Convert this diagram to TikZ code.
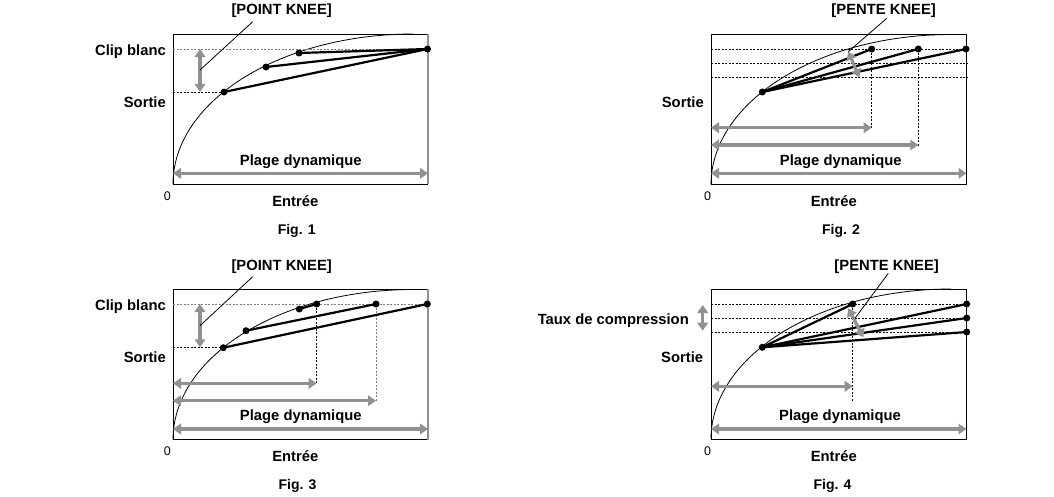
\documentclass[tikz,border=0pt]{standalone}
\usepackage{fontspec}
\setmainfont{Liberation Sans}
\usetikzlibrary{arrows.meta}
\definecolor{arrgray}{RGB}{145,145,145}
\definecolor{dotgray}{RGB}{125,125,125}
\tikzset{
  frame/.style={line width=1pt},
  curve/.style={line width=0.8pt},
  knee/.style={line width=2.2pt},
  dotl/.style={line width=1pt, dash pattern=on 2pt off 1.5pt},
  graydot/.style={dotl, draw=dotgray},
  garrow/.style={draw=arrgray, line width=3.3pt,
    {Triangle[length=8pt,width=10.5pt]}-{Triangle[length=8pt,width=10.5pt]}},
  leader/.style={line width=0.8pt},
  lab/.style={font=\fontsize{14.8}{17}\selectfont\bfseries, inner sep=0pt},
  figlab/.style={font=\fontsize{14}{17}\selectfont\bfseries, inner sep=0pt},
  zero/.style={font=\fontsize{12.5}{14}\selectfont, inner sep=0pt},
  dot/.style={circle, fill=black, inner sep=0pt, minimum size=7pt},
}
\begin{document}
\begin{tikzpicture}[x=1pt,y=-1pt]
\path[use as bounding box] (0,0) rectangle (1054,496);

% ================= Fig. 1 =================
\draw[frame] (428,34) -- (173,34) -- (173,184) -- (428,184);
\draw[frame, draw=arrgray, line width=1.3pt] (428,34) -- (428,184);
\draw[curve] plot[domain=180:270, samples=90] ({413+240*cos(\x)}, {184+150*sin(\x)});
\coordinate (f1k1) at (224,92);
\coordinate (f1k2) at (266,67);
\coordinate (f1k3) at (299,53);
\coordinate (f1e) at (427.5,49);
\coordinate (f1cl) at (173,49);
\coordinate (f1sl) at (173,92);
\draw[graydot] (f1cl) -- (f1e);
\draw[dotl] (f1sl) -- (f1k1);
\draw[knee] (f1k1) -- (f1e);
\draw[knee] (f1k2) -- (f1e);
\draw[knee] (f1k3) -- (f1e);
\node[dot] (f1k1d) at (f1k1) {};
\node[dot] (f1k2d) at (f1k2) {};
\node[dot] (f1k3d) at (f1k3) {};
\node[dot] (f1ed) at (f1e) {};
\coordinate (f1va) at (200,49);
\coordinate (f1vb) at (200,92);
\draw[garrow] (f1va) -- (f1vb);
\coordinate (f1ha) at (173,173.3);
\coordinate (f1hb) at (428,173.3);
\draw[garrow] (f1ha) -- (f1hb);
\node[lab, anchor=base] (f1pk) at (281.7,14) {[POINT KNEE]};
\coordinate (f1lt) at (252.7,21.7);
\coordinate (f1lb) at (200,70);
\draw[leader] (f1lt) -- (f1lb);
\node[lab, anchor=base east] (f1clip) at (166,55) {Clip blanc};
\node[lab, anchor=base east] (f1sort) at (166,107.3) {Sortie};
\node[lab, anchor=base] (f1plage) at (300.8,165.7) {Plage dynamique};
\node[zero, anchor=base] (f1zero) at (167.3,200.7) {0};
\node[lab, anchor=base] (f1entree) at (295.3,206.7) {Entrée};
\node[figlab, anchor=base] (f1fig) at (296.7,234.3) {Fig. 1};

% ================= Fig. 2 =================
\draw[frame] (711,34) rectangle (966.7,184.5);
\draw[curve] plot[domain=180:270, samples=90] ({951+240*cos(\x)}, {184.5+150*sin(\x)});
\coordinate (f2k) at (762.3,92);
\coordinate (f2a) at (871.7,49);
\coordinate (f2b) at (918.3,49);
\coordinate (f2c) at (966,49);
\coordinate (f2l1) at (711,49);
\coordinate (f2l2) at (711,63);
\coordinate (f2r2) at (966.7,63);
\coordinate (f2l3) at (711,77);
\coordinate (f2r3) at (966.7,77);
\draw[dotl] (f2l1) -- (f2c);
\draw[dotl] (f2l2) -- (f2r2);
\draw[dotl] (f2l3) -- (f2r3);
\coordinate (f2ad) at (871.7,128);
\coordinate (f2bd) at (918.3,145.7);
\draw[dotl] (f2a) -- (f2ad);
\draw[dotl] (f2b) -- (f2bd);
\draw[knee] (f2k) -- (f2a);
\draw[knee] (f2k) -- (f2b);
\draw[knee] (f2k) -- (f2c);
\node[dot] (f2kd) at (f2k) {};
\node[dot] (f2adot) at (f2a) {};
\node[dot] (f2bdot) at (f2b) {};
\node[dot] (f2cdot) at (f2c) {};
\coordinate (f2h1a) at (711,127.7);
\coordinate (f2h1b) at (871.7,127.7);
\draw[garrow] (f2h1a) -- (f2h1b);
\coordinate (f2h2a) at (711,145);
\coordinate (f2h2b) at (918.3,145);
\draw[garrow] (f2h2a) -- (f2h2b);
\coordinate (f2h3a) at (711,173.3);
\coordinate (f2h3b) at (966.5,173.3);
\draw[garrow] (f2h3a) -- (f2h3b);
\coordinate (f2da) at (848.3,51.7);
\coordinate (f2db) at (859.3,77.3);
\draw[garrow] (f2da) -- (f2db);
\node[lab, anchor=base] (f2pk) at (883.7,14) {[PENTE KNEE]};
\coordinate (f2lt) at (886.7,18.3);
\draw[leader] (f2lt) -- (f2da);
\node[lab, anchor=base east] (f2sort) at (704,107.3) {Sortie};
\node[lab, anchor=base] (f2plage) at (840.8,165.7) {Plage dynamique};
\node[zero, anchor=base] (f2zero) at (707.7,200.7) {0};
\node[lab, anchor=base] (f2entree) at (833.8,206.7) {Entrée};
\node[figlab, anchor=base] (f2fig) at (841,234.3) {Fig. 2};

% ================= Fig. 3 =================
\draw[frame] (428,289) -- (173,289) -- (173,439.5) -- (428,439.5);
\draw[frame, draw=arrgray, line width=1.3pt] (428,289) -- (428,439.5);
\draw[curve] plot[domain=180:270, samples=90] ({413+240*cos(\x)}, {439.5+150*sin(\x)});
\coordinate (f3p1) at (223.3,347.7);
\coordinate (f3p2) at (246,330.7);
\coordinate (f3p3) at (299.3,309);
\coordinate (f3e1) at (316.7,304);
\coordinate (f3e2) at (376,304);
\coordinate (f3e3) at (427.3,304);
\coordinate (f3cl) at (173,304);
\coordinate (f3sl) at (173,347.7);
\draw[graydot] (f3cl) -- (f3e3);
\draw[dotl] (f3sl) -- (f3p1);
\coordinate (f3e1d) at (316.7,383.3);
\coordinate (f3e2d) at (376,400.7);
\draw[dotl] (f3e1) -- (f3e1d);
\draw[graydot] (f3e2) -- (f3e2d);
\draw[knee] (f3p1) -- (f3e3);
\draw[knee] (f3p2) -- (f3e2);
\draw[knee] (f3p3) -- (f3e1);
\node[dot] (f3p1d) at (f3p1) {};
\node[dot] (f3p2d) at (f3p2) {};
\node[dot] (f3p3d) at (f3p3) {};
\node[dot] (f3e1dot) at (f3e1) {};
\node[dot] (f3e2dot) at (f3e2) {};
\node[dot] (f3e3dot) at (f3e3) {};
\coordinate (f3va) at (200,304);
\coordinate (f3vb) at (200,347.3);
\draw[garrow] (f3va) -- (f3vb);
\coordinate (f3h1a) at (173,383.3);
\coordinate (f3h1b) at (316.7,383.3);
\draw[garrow] (f3h1a) -- (f3h1b);
\coordinate (f3h2a) at (173,400.7);
\coordinate (f3h2b) at (376,400.7);
\draw[garrow] (f3h2a) -- (f3h2b);
\coordinate (f3h3a) at (173,429);
\coordinate (f3h3b) at (428,429);
\draw[garrow] (f3h3a) -- (f3h3b);
\node[lab, anchor=base] (f3pk) at (281.7,270) {[POINT KNEE]};
\coordinate (f3lt) at (252.7,276.7);
\coordinate (f3lb) at (200,325.7);
\draw[leader] (f3lt) -- (f3lb);
\node[lab, anchor=base east] (f3clip) at (166,310) {Clip blanc};
\node[lab, anchor=base east] (f3sort) at (166,362.5) {Sortie};
\node[lab, anchor=base] (f3plage) at (300.8,420.7) {Plage dynamique};
\node[zero, anchor=base] (f3zero) at (167.3,455.7) {0};
\node[lab, anchor=base] (f3entree) at (295.3,461.7) {Entrée};
\node[figlab, anchor=base] (f3fig) at (297.5,489.3) {Fig. 3};

% ================= Fig. 4 =================
\draw[frame] (711,289) rectangle (966.7,439);
\draw[curve] plot[domain=180:270, samples=90] ({951+240*cos(\x)}, {439+150*sin(\x)});
\coordinate (f4k) at (762.3,347.3);
\coordinate (f4a) at (852.7,304);
\coordinate (f4b) at (966.7,304);
\coordinate (f4c) at (966.7,318);
\coordinate (f4d) at (966.7,332);
\coordinate (f4l1) at (711,304);
\coordinate (f4l2) at (711,318);
\coordinate (f4l3) at (711,332);
\draw[dotl] (f4l1) -- (f4b);
\draw[dotl] (f4l2) -- (f4c);
\draw[dotl] (f4l3) -- (f4d);
\coordinate (f4ad) at (852.7,401.7);
\draw[dotl] (f4a) -- (f4ad);
\draw[knee] (f4k) -- (f4a);
\draw[knee] (f4k) -- (f4b);
\draw[knee] (f4k) -- (f4c);
\draw[knee] (f4k) -- (f4d);
\node[dot] (f4kd) at (f4k) {};
\node[dot] (f4adot) at (f4a) {};
\node[dot] (f4bdot) at (f4b) {};
\node[dot] (f4cdot) at (f4c) {};
\node[dot] (f4ddot) at (f4d) {};
\coordinate (f4h1a) at (711,386.3);
\coordinate (f4h1b) at (852.7,386.3);
\draw[garrow] (f4h1a) -- (f4h1b);
\coordinate (f4h2a) at (711,429);
\coordinate (f4h2b) at (966.5,429);
\draw[garrow] (f4h2a) -- (f4h2b);
\coordinate (f4da) at (848.3,308.3);
\coordinate (f4db) at (863.3,337.3);
\draw[garrow] (f4da) -- (f4db);
\coordinate (f4va) at (702.7,305);
\coordinate (f4vb) at (702.7,330.7);
\draw[garrow] (f4va) -- (f4vb);
\node[lab, anchor=base] (f4pk) at (886.7,270) {[PENTE KNEE]};
\coordinate (f4lt) at (888.3,273.3);
\coordinate (f4lb) at (855,318.3);
\draw[leader] (f4lt) -- (f4lb);
\node[lab, anchor=base east] (f4taux) at (689,324) {Taux de compression};
\node[lab, anchor=base east] (f4sort) at (703.3,362.5) {Sortie};
\node[lab, anchor=base] (f4plage) at (840,420.7) {Plage dynamique};
\node[zero, anchor=base] (f4zero) at (707.7,455.7) {0};
\node[lab, anchor=base] (f4entree) at (833.8,461.7) {Entrée};
\node[figlab, anchor=base] (f4fig) at (832.5,489.3) {Fig. 4};
\end{tikzpicture}
\end{document}
